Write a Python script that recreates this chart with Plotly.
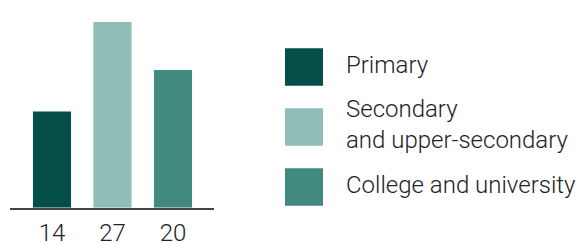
import plotly.graph_objects as go

categories = ["Primary", "Secondary<br>and upper-secondary", "College and university"]
values = [14, 27, 20]
tick_labels = ["14", "27", "20"]
colors = ["#034e48", "#8ebeb7", "#428980"]

W, H = 579, 244
fig = go.Figure()
fig.add_trace(go.Bar(
    x=list(range(len(values))), y=values,
    marker=dict(color=colors, line=dict(width=0)),
    width=0.63, showlegend=False, hoverinfo="skip",
))

font = dict(family="Roboto", size=24, color="#222222", weight=300)

fig.update_layout(
    width=W, height=H,
    margin=dict(l=0, r=0, t=0, b=0, autoexpand=False),
    paper_bgcolor="white", plot_bgcolor="white",
    font=font,
    xaxis=dict(
        domain=[10 / W, 214 / W],
        range=[-0.694, 2.678],
        tickmode="array", tickvals=list(range(len(values))), ticktext=tick_labels,
        showline=True, linecolor="#444444", linewidth=2,
        ticks="outside", ticklen=2, tickcolor="rgba(0,0,0,0)",
        showgrid=False, zeroline=False, tickfont=font, automargin=False,
    ),
    yaxis=dict(
        domain=[36.3 / H, 1],
        range=[0, 30.19], automargin=False,
        visible=False, showgrid=False, zeroline=False,
    ),
)

# manual legend with large squares
sq_x0, sq_x1 = 285, 323
sq_tops = [48.3, 108.3, 168.3]
text_y = [65, 124, 185]
for c, lab, top, ty in zip(colors, categories, sq_tops, text_y):
    fig.add_shape(type="rect", xref="paper", yref="paper",
                  x0=sq_x0 / W, x1=sq_x1 / W,
                  y0=1 - (top + 37.5) / H, y1=1 - top / H,
                  fillcolor=c, line=dict(width=0))
    fig.add_annotation(xref="paper", yref="paper", x=344 / W, y=1 - ty / H,
                       xanchor="left", yanchor="middle", align="left",
                       text=lab, showarrow=False, font=font)

fig.write_html("out.html", config={"displayModeBar": False},
               post_script="document.body.style.margin='0';")
